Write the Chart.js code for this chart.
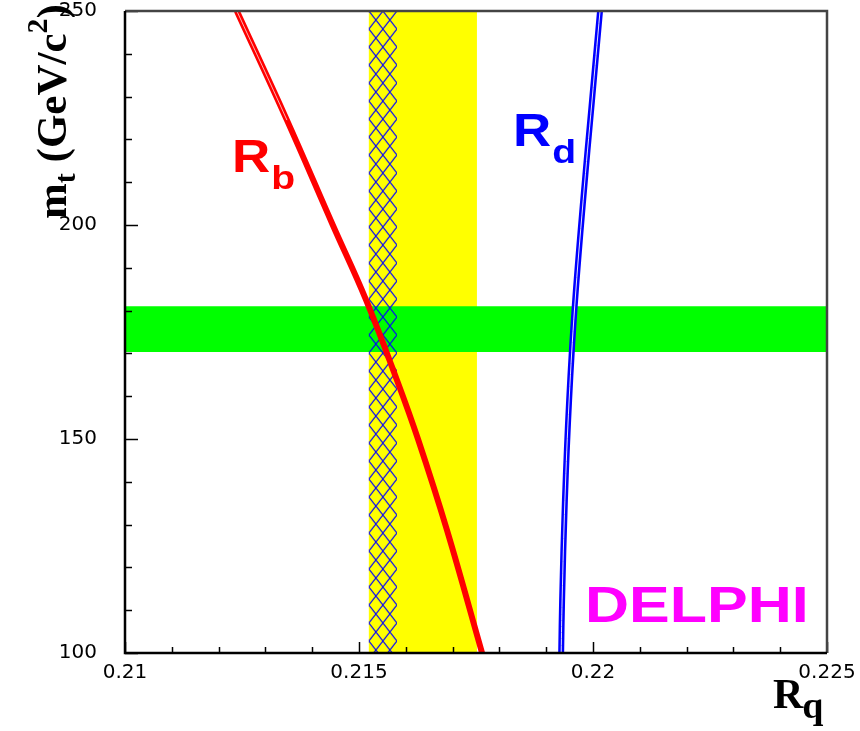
<!DOCTYPE html>
<html><head><meta charset="utf-8">
<script src="https://cdn.jsdelivr.net/npm/chart.js@4.4.1/dist/chart.umd.min.js"></script>
<style>html,body{margin:0;padding:0;background:#fff;}#wrap{width:860px;height:731px;}</style>
</head><body><div id="wrap"><canvas id="c" width="860" height="731"></canvas></div>
<script>
// ---- data ----
const xRange = [0.21, 0.225];
const yRange = [100, 250];
const xTickStep = 0.001;
const yTickStep = 10;
const xLabelTicks = [0.21, 0.215, 0.22, 0.225];
const yLabelTicks = [100, 150, 200, 250];

// R_b curve (red): top mass vs R_q
const rbMass = [250, 224.5, 200, 182.5, 163.8, 150, 128.7, 100];
const rbRq   = [0.21239, 0.21346, 0.21444, 0.21515, 0.21581, 0.21626, 0.21688, 0.21763];
// above this mass the two red lines are drawn apart
const rbSplitMass = 222;

// R_d curve (blue)
const rdMass = [250, 229.2, 205.8, 181.1, 159.1, 135.7, 112.4, 100];
const rdRq   = [0.22015, 0.21998, 0.21979, 0.21961, 0.21949, 0.21940, 0.21934, 0.21932];

// bands
const mtBand    = [170.3, 181.0];     // green, horizontal
const rqBand    = [0.21521, 0.21752]; // yellow, vertical
const rqHatch   = [0.21521, 0.21581]; // blue cross-hatch

const toPts = (xs, ys) => xs.map((x, i) => ({x: x, y: ys[i]}));
const rectV = (b) => [{x:b[0],y:yRange[0]},{x:b[0],y:yRange[1]},{x:b[1],y:yRange[1]},{x:b[1],y:yRange[0]}];
const rectH = (b) => [{x:xRange[0],y:b[0]},{x:xRange[0],y:b[1]},{x:xRange[1],y:b[1]},{x:xRange[1],y:b[0]}];

// hatch pattern
const pc = document.createElement('canvas');
pc.width = 14; pc.height = 18;
const pctx = pc.getContext('2d');
pctx.strokeStyle = '#0000ff';
pctx.lineWidth = 1.1;
pctx.beginPath();
pctx.moveTo(0, 0); pctx.lineTo(14, 18);
pctx.moveTo(14, 0); pctx.lineTo(0, 18);
pctx.stroke();
const ctx0 = document.getElementById('c').getContext('2d');
const hatchPattern = ctx0.createPattern(pc, 'repeat');

const isMajor = (v, step) => Math.abs(Math.round(v / step) - v / step) < 1e-6;
const SERIF = '"Liberation Serif", "Times New Roman", serif';
const SANS = '"Liberation Sans", Arial, sans-serif';

const decoPlugin = {
  id: 'deco',
  beforeDatasetsDraw(chart) {
    const xs = chart.scales.x;
    const left = xs.getPixelForValue(rqHatch[0]);
    if (hatchPattern.setTransform) hatchPattern.setTransform(new DOMMatrix().translate(left, chart.chartArea.top));
  },
  afterDatasetsDraw(chart) {
    const ctx = chart.ctx;
    const a = chart.chartArea;
    const xs = chart.scales.x, ys = chart.scales.y;
    ctx.save();
    ctx.strokeStyle = '#000';
    ctx.lineWidth = 1.5;
    xs.ticks.forEach(t => {
      const p = Math.round(xs.getPixelForValue(t.value)) + 0.5;
      const L = isMajor(t.value, 0.005) ? 11 : 6;
      ctx.beginPath(); ctx.moveTo(p, a.bottom); ctx.lineTo(p, a.bottom - L); ctx.stroke();
    });
    ys.ticks.forEach(t => {
      const p = Math.round(ys.getPixelForValue(t.value)) + 0.5;
      const L = isMajor(t.value, 50) ? 13 : 7;
      ctx.beginPath(); ctx.moveTo(a.left, p); ctx.lineTo(a.left + L, p); ctx.stroke();
    });
    // frame
    ctx.lineWidth = 2.5;
    ctx.strokeStyle = '#444';
    ctx.beginPath(); ctx.moveTo(a.left, a.top); ctx.lineTo(a.right, a.top); ctx.lineTo(a.right, a.bottom); ctx.stroke();
    ctx.strokeStyle = '#000';
    ctx.beginPath(); ctx.moveTo(a.left, a.top); ctx.lineTo(a.left, a.bottom); ctx.lineTo(a.right, a.bottom); ctx.stroke();
    ctx.restore();
  },
  afterDraw(chart) {
    const ctx = chart.ctx;
    ctx.save();
    ctx.textBaseline = 'alphabetic';
    ctx.textAlign = 'left';
    function sansLabel(x, y, main, sub, color, size, subSize, subDy, stretch) {
      ctx.save();
      ctx.translate(x, y);
      ctx.scale(stretch, 1);
      ctx.fillStyle = color;
      ctx.font = 'bold ' + size + 'px ' + SANS;
      ctx.fillText(main, 0, 0);
      const w = ctx.measureText(main).width;
      if (sub) {
        ctx.font = 'bold ' + subSize + 'px ' + SANS;
        ctx.fillText(sub, w + 1, subDy);
      }
      ctx.restore();
    }
    sansLabel(232, 172, 'R', 'b', '#ff0000', 46, 34, 17, 1.15);
    sansLabel(513, 146, 'R', 'd', '#0000ff', 46, 34, 17, 1.15);
    sansLabel(585, 622, 'DELPHI', '', '#ff00ff', 50, 0, 0, 1.22);

    // x-axis title R_q
    ctx.fillStyle = '#000';
    ctx.font = 'bold 42px ' + SERIF;
    ctx.fillText('R', 773, 708);
    const wR = ctx.measureText('R').width;
    ctx.font = 'bold 38px ' + SERIF;
    ctx.fillText('q', 772 + wR, 718);

    // y-axis title m_t (GeV/c^2)
    ctx.save();
    ctx.translate(66, 219);
    ctx.rotate(-Math.PI / 2);
    let w = 0;
    const big = 'bold 43px ' + SERIF, small = 'bold 30px ' + SERIF;
    ctx.font = big;   ctx.fillText('m', w, 0); w += ctx.measureText('m').width;
    ctx.font = small; ctx.fillText('t', w, 9); w += ctx.measureText('t').width;
    ctx.font = big;   ctx.fillText(' (GeV/c', w, 0); w += ctx.measureText(' (GeV/c').width;
    ctx.font = small; ctx.fillText('2', w, -19); w += ctx.measureText('2').width;
    ctx.font = big;   ctx.fillText(')', w, 0);
    ctx.restore();
    ctx.restore();
  }
};

const lineDs = (data, color, width, order, extra) => Object.assign({
  data: data, showLine: true, borderColor: color, borderWidth: width,
  pointRadius: 0, fill: false, tension: 0.4, order: order
}, extra || {});
const bandDs = (data, bg, order) => ({
  data: data, showLine: true, borderWidth: 0, borderColor: 'rgba(0,0,0,0)',
  backgroundColor: bg, pointRadius: 0, fill: 'shape', tension: 0, order: order
});

new Chart(document.getElementById('c'), {
  type: 'scatter',
  data: {
    datasets: [
      bandDs(rectV(rqBand), '#ffff00', 10),
      bandDs(rectH(mtBand), '#00ff00', 9),
      bandDs(rectV(rqHatch), hatchPattern, 8),
      lineDs(toPts(rbRq, rbMass), '#ff0000', 6, 4),
      lineDs(toPts(rbRq, rbMass), '#ffffff', 0.7, 3, {
        segment: {borderColor: c => (c.p1.parsed.y >= rbSplitMass ? '#ffffff' : 'rgba(0,0,0,0)')}
      }),
      lineDs(toPts(rdRq, rdMass), '#0000ff', 6, 2),
      lineDs(toPts(rdRq, rdMass), '#ffffff', 0.9, 1)
    ]
  },
  options: {
    responsive: false, animation: false, devicePixelRatio: 1,
    layout: {padding: {left: 0, right: 33, top: 11, bottom: 0}},
    plugins: {legend: {display: false}, tooltip: {enabled: false}},
    scales: {
      x: {
        type: 'linear', position: 'bottom', min: xRange[0], max: xRange[1],
        grid: {display: false}, border: {display: false},
        ticks: {
          stepSize: xTickStep, autoSkip: false, maxRotation: 0, padding: 0, color: '#000',
          font: {family: 'DejaVu Sans', size: 20},
          callback: (v) => xLabelTicks.some(t => Math.abs(t - v) < 1e-7) ? String(Math.round(v * 1000) / 1000) : ''
        },
        afterFit: (s) => { s.height = 78; s.paddingLeft = 0; s.paddingRight = 0; }
      },
      y: {
        type: 'linear', position: 'left', min: yRange[0], max: yRange[1],
        grid: {display: false}, border: {display: false},
        ticks: {
          stepSize: yTickStep, autoSkip: false, padding: 20, color: '#000',
          font: {family: 'DejaVu Sans', size: 20},
          callback: (v) => yLabelTicks.includes(Math.round(v)) ? String(Math.round(v)) : ''
        },
        afterFit: (s) => { s.width = 125; s.paddingTop = 0; s.paddingBottom = 0; }
      }
    }
  },
  plugins: [decoPlugin]
});
</script></body></html>
